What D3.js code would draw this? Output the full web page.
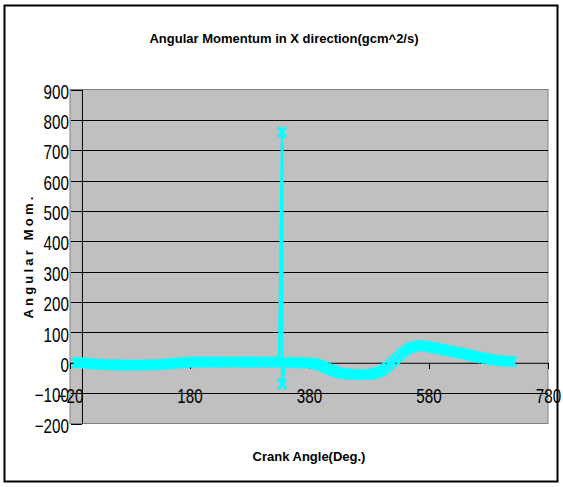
<!DOCTYPE html>
<html>
<head>
<meta charset="utf-8">
<script src="https://cdn.jsdelivr.net/npm/d3@7/dist/d3.min.js"></script>
<style>
  html, body { margin: 0; padding: 0; background: #fff; }
  svg { display: block; font-family: "Liberation Sans", Arial, sans-serif; }
</style>
</head>
<body>
<svg id="chart" width="563" height="487"></svg>
<script>
// Crank angle (deg) for each sample
const crankAngle = [
  -10, -5, 0, 5, 10, 15, 20, 25, 30, 35, 40, 45, 50, 55, 60, 65, 70, 75, 80, 85,
  90, 95, 100, 105, 110, 115, 120, 125, 130, 135, 140, 145, 150, 155, 160, 165, 170, 175, 180, 185,
  190, 195, 200, 205, 210, 215, 220, 225, 230, 235, 240, 245, 250, 255, 260, 265, 270, 275, 280, 285,
  290, 295, 300, 305, 310, 315, 320, 325, 330, 335, 335, 340, 345, 350, 355, 360, 365, 370, 375, 380,
  385, 390, 395, 400, 405, 410, 415, 420, 425, 430, 435, 440, 445, 450, 455, 460, 465, 470, 475, 480,
  485, 490, 495, 500, 505, 510, 515, 520, 525, 530, 535, 540, 545, 550, 555, 560, 565, 570, 575, 580,
  585, 590, 595, 600, 605, 610, 615, 620, 625, 630, 635, 640, 645, 650, 655, 660, 665, 670, 675, 680,
  685, 690, 695, 700, 705, 710, 715, 720
];

// Angular momentum in X direction (g cm^2/s)
const angularMomentum = [
  0, 0, 0, -1, -2, -3, -4, -5, -5, -6, -6, -6, -7, -7, -7, -8, -8, -8, -8, -8,
  -8, -8, -8, -8, -7, -7, -7, -6, -6, -5, -5, -4, -3, -2, -1, 0, 0, 1, 1, 2,
  2, 2, 2, 2, 2, 2, 2, 2, 2, 2, 2, 2, 2, 2, 2, 2, 2, 2, 2, 2,
  2, 2, 2, 2, 2, 2, 2, 2, 2, 760, -70, 2, 1, 1, 1, 0, 0, 0, 0, -1,
  -1, -3, -6, -9, -13, -18, -22, -26, -30, -33, -35, -36, -37, -38, -38, -39, -39, -39, -39, -38,
  -37, -35, -32, -28, -23, -15, -7, 2, 11, 20, 29, 37, 44, 49, 53, 55, 56, 56, 55, 53,
  51, 49, 47, 45, 43, 41, 39, 37, 35, 33, 31, 29, 27, 25, 22, 20, 18, 16, 14, 12,
  10, 9, 8, 7, 6, 5, 4, 4
];

const xTicks = [-20, 180, 380, 580, 780];
const yTicks = [-200, -100, 0, 100, 200, 300, 400, 500, 600, 700, 800, 900];

const titleText = "Angular Momentum in X direction(gcm^2/s)";
const xTitleText = "Crank Angle(Deg.)";
const yTitleText = "Angular Mom.";

const svg = d3.select("#chart");
const plot = { left: 70, right: 548, top: 89.5, bottom: 423.5 };
const narrow = 0.76; // horizontal squeeze for the condensed tick font

const x = d3.scaleLinear().domain([-20, 780]).range([plot.left, plot.right]);
const y = d3.scaleLinear().domain([-200, 900]).range([plot.bottom, plot.top]);

// chart frame
svg.append("rect")
  .attr("x", 4.5).attr("y", 5.5)
  .attr("width", 553).attr("height", 476)
  .attr("fill", "#fff").attr("stroke", "#000").attr("stroke-width", 2);

// title
svg.append("text")
  .attr("x", 284).attr("y", 43)
  .attr("text-anchor", "middle")
  .attr("font-size", 13).attr("font-weight", "bold")
  .text(titleText);

// plot area
svg.append("rect")
  .attr("x", plot.left).attr("y", plot.top)
  .attr("width", plot.right - plot.left).attr("height", plot.bottom - plot.top)
  .attr("fill", "#c0c0c0").attr("stroke", "#808080").attr("stroke-width", 1);

const x0 = x(0), y0 = y(0);

// horizontal gridlines
const grid = svg.append("g")
  .attr("transform", `translate(${plot.right},0)`)
  .call(d3.axisLeft(y)
    .tickValues(yTicks.filter(v => v !== 900 && v !== -200 && v !== 0))
    .tickSize(plot.right - x0)
    .tickFormat(""));
grid.select(".domain").remove();
grid.selectAll("line").attr("stroke", "#000").attr("shape-rendering", "crispEdges");

// vertical axis crossing at 0 deg
const yAxis = svg.append("g")
  .attr("transform", `translate(${x0},0)`)
  .call(d3.axisLeft(y).tickValues(yTicks).tickSizeInner(11).tickSizeOuter(0).tickPadding(2));
yAxis.select(".domain").attr("stroke", "#000");
yAxis.selectAll("line").attr("stroke", "#000").attr("shape-rendering", "crispEdges");
yAxis.selectAll("text")
  .attr("font-size", 20).attr("fill", "#000")
  .attr("font-family", "'Liberation Sans', Arial, sans-serif")
  .attr("dy", "0.43em")
  .each(function () {
    const t = d3.select(this);
    t.attr("x", +t.attr("x") / narrow).attr("transform", `scale(${narrow},1)`);
  });

// horizontal axis crossing at 0
const xAxis = svg.append("g")
  .attr("transform", `translate(0,${y0})`)
  .call(d3.axisBottom(x).tickValues(xTicks).tickSizeInner(6).tickSizeOuter(0).tickPadding(20));
xAxis.select(".domain").attr("stroke", "#000");
xAxis.selectAll("line").attr("stroke", "#000").attr("shape-rendering", "crispEdges");
xAxis.selectAll("text")
  .attr("font-size", 20).attr("fill", "#000")
  .attr("font-family", "'Liberation Sans', Arial, sans-serif")
  .attr("transform", `scale(${narrow},1)`);

// axis titles
svg.append("text")
  .attr("x", 309).attr("y", 461)
  .attr("text-anchor", "middle")
  .attr("font-size", 13).attr("font-weight", "bold")
  .text(xTitleText);

svg.append("text")
  .attr("transform", `translate(33,256) rotate(-90)`)
  .attr("text-anchor", "middle")
  .attr("font-size", 13).attr("font-weight", "bold")
  .attr("letter-spacing", 3.2)
  .text(yTitleText);

// series: thin connecting line plus dense x markers
const pts = crankAngle.map((a, i) => [a, angularMomentum[i]]);
const line = d3.line().x(d => x(d[0])).y(d => y(d[1]));

svg.append("path")
  .datum(pts)
  .attr("d", line)
  .attr("fill", "none")
  .attr("stroke", "#00ffff")
  .attr("stroke-width", 2.5);

svg.append("g")
  .selectAll("path")
  .data(pts)
  .join("path")
  .attr("transform", d => `translate(${x(d[0])},${y(d[1])})`)
  .attr("d", "M-3.8,-5L3.8,5M-3.8,5L3.8,-5")
  .attr("stroke", "#00ffff")
  .attr("stroke-width", 3)
  .attr("fill", "none");
</script>
</body>
</html>
